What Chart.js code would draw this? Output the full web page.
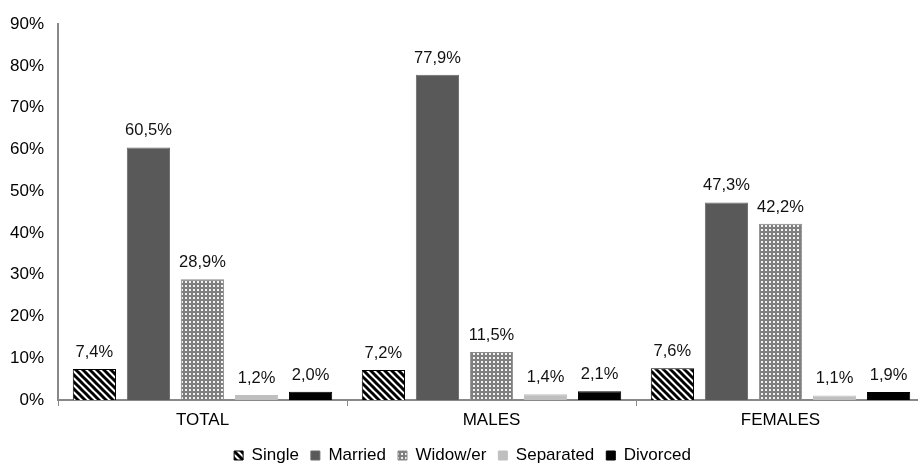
<!DOCTYPE html>
<html>
<head>
<meta charset="utf-8">
<script src="https://cdn.jsdelivr.net/npm/chart.js@4"></script>
<style>
html,body{margin:0;padding:0;background:#fff;overflow:hidden;width:918px;height:465px;}
#wrap{position:absolute;left:0;top:0;width:926px;height:474px;}
</style>
</head>
<body>
<div id="wrap"><canvas id="c" width="926" height="474"></canvas></div>
<script>
const categories = ['TOTAL', 'MALES', 'FEMALES'];
const seriesNames = ['Single', 'Married', 'Widow/er', 'Separated', 'Divorced'];
const single = [7.4, 7.2, 7.6];
const married = [60.5, 77.9, 47.3];
const widow = [28.9, 11.5, 42.2];
const separated = [1.2, 1.4, 1.1];
const divorced = [2.0, 2.1, 1.9];
const yTicks = [0, 10, 20, 30, 40, 50, 60, 70, 80, 90];

const FONT = '"Liberation Sans", Arial, sans-serif';

function stripePattern() {
  const s = 7;
  const c = document.createElement('canvas');
  c.width = s; c.height = s;
  const g = c.getContext('2d');
  g.fillStyle = '#fff'; g.fillRect(0, 0, s, s);
  g.strokeStyle = '#000'; g.lineWidth = 3;
  for (let k = -1; k <= 1; k++) {
    g.beginPath();
    g.moveTo(k * s - 1, -1);
    g.lineTo(k * s + s + 1, s + 1);
    g.stroke();
  }
  return g.createPattern(c, 'repeat');
}
function dotPattern() {
  const c = document.createElement('canvas');
  c.width = 4; c.height = 4;
  const g = c.getContext('2d');
  g.fillStyle = '#7f7f7f'; g.fillRect(0, 0, 4, 4);
  g.fillStyle = '#f2f2f2'; g.fillRect(1, 1, 2, 2);
  return g.createPattern(c, 'repeat');
}

const fills = [stripePattern(), '#595959', dotPattern(), '#bfbfbf', '#000000'];
const borders = ['#000000', '#6a6a6a', '#8c8c8c', '#bfbfbf', '#000000'];
const allData = [single, married, widow, separated, divorced];

const labelPlugin = {
  id: 'valLabels',
  afterDatasetsDraw(chart) {
    const ctx = chart.ctx;
    ctx.save();
    ctx.font = '16.5px ' + FONT;
    ctx.fillStyle = '#111';
    ctx.textAlign = 'center';
    ctx.textBaseline = 'alphabetic';
    chart.data.datasets.forEach((ds, i) => {
      const meta = chart.getDatasetMeta(i);
      meta.data.forEach((bar, j) => {
        const v = ds.data[j];
        const txt = v.toFixed(1).replace('.', ',') + '%';
        ctx.fillText(txt, bar.x, bar.y - 12);
      });
    });
    ctx.restore();
  }
};

new Chart(document.getElementById('c'), {
  type: 'bar',
  data: {
    labels: categories,
    datasets: seriesNames.map((n, i) => ({
      label: n,
      data: allData[i],
      backgroundColor: fills[i],
      borderColor: borders[i],
      borderWidth: 1,
      categoryPercentage: 0.935,
      barPercentage: 0.8
    }))
  },
  options: {
    responsive: false,
    animation: false,
    devicePixelRatio: 1,
    layout: { padding: { left: 0, right: 1, top: 24, bottom: 0 } },
    plugins: {
      legend: {
        position: 'bottom',
        labels: {
          font: { size: 17, family: FONT },
          color: '#000',
          boxWidth: 9,
          boxHeight: 9,
          padding: 12
        }
      },
      tooltip: { enabled: false }
    },
    scales: {
      x: {
        grid: { display: true, drawOnChartArea: false, color: '#888', tickLength: 6, offset: true },
        border: { color: '#888', width: 2 },
        ticks: { color: '#000', font: { size: 17, family: FONT }, padding: 4 },
        afterFit(s) { s.height = 35; }
      },
      y: {
        min: 0, max: 90,
        afterBuildTicks(s) { s.ticks = yTicks.map(v => ({ value: v })); },
        grid: { display: false, drawTicks: false },
        border: { color: '#888', width: 2 },
        ticks: {
          color: '#000',
          font: { size: 17, family: FONT },
          padding: 14,
          callback: v => v + '%'
        },
        afterFit(s) { s.width = 58; }
      }
    }
  },
  plugins: [labelPlugin]
});
</script>
</body>
</html>
